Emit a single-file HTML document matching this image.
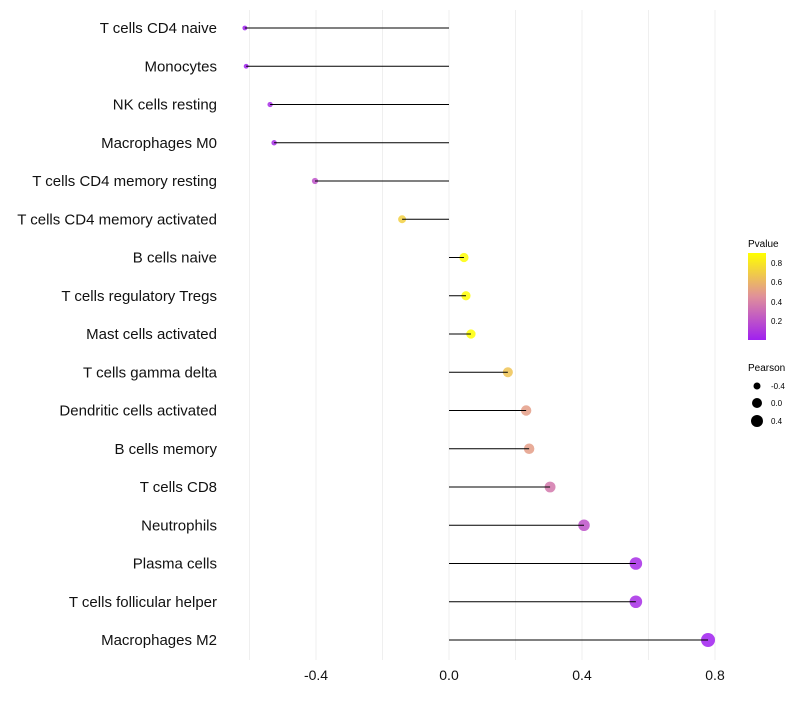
<!DOCTYPE html>
<html><head><meta charset="utf-8"><style>
body{margin:0;background:#fff;font-family:"Liberation Sans",sans-serif}
svg text{font-family:"Liberation Sans",sans-serif}
</style></head><body>
<svg id="chart" width="800" height="700">
<defs><linearGradient id="pg" x1="0" y1="1" x2="0" y2="0">
<stop offset="0" stop-color="#a020f0"/><stop offset="0.5" stop-color="#e0909a"/><stop offset="1" stop-color="#ffff00"/></linearGradient></defs>
<g id="grid"></g><g id="marks"></g><g id="labels"></g>
<g>
<text x="748" y="247" font-size="10">Pvalue</text>
<rect x="748" y="253" width="18" height="87" fill="url(#pg)"/>
<text x="771" y="266" font-size="8">0.8</text><text x="771" y="285" font-size="8">0.6</text>
<text x="771" y="305" font-size="8">0.4</text><text x="771" y="324" font-size="8">0.2</text>
</g>
<g>
<text x="748" y="371" font-size="10">Pearson</text>
<circle cx="757" cy="386" r="3.5" fill="#000"/><text x="771" y="389" font-size="8">-0.4</text>
<circle cx="757" cy="403" r="5" fill="#000"/><text x="771" y="406" font-size="8">0.0</text>
<circle cx="757" cy="421" r="6" fill="#000"/><text x="771" y="424" font-size="8">0.4</text>
</g>
</svg>
<script>
const categories=["T cells CD4 naive","Monocytes","NK cells resting","Macrophages M0","T cells CD4 memory resting","T cells CD4 memory activated","B cells naive","T cells regulatory  Tregs ","Mast cells activated","T cells gamma delta","Dendritic cells activated","B cells memory","T cells CD8","Neutrophils","Plasma cells","T cells follicular helper","Macrophages M2"];
const pearson=[-0.614,-0.61,-0.538,-0.526,-0.403,-0.141,0.045,0.051,0.066,0.177,0.232,0.241,0.304,0.406,0.562,0.562,0.779];
const pvalues=[0.0,0.0,0.05,0.05,0.2,0.7,0.88,0.88,0.9,0.65,0.5,0.5,0.35,0.2,0.05,0.05,0.0];
const xTicks=[-0.4,0.0,0.4,0.8];
const ns="http://www.w3.org/2000/svg";
const x=v=>449+v*332.5, y=i=>28+i*38.25;
function mk(t,a,p){const e=document.createElementNS(ns,t);for(const k in a)e.setAttribute(k,a[k]);p.appendChild(e);return e;}
function lerp(a,b,t){return a.map((c,i)=>Math.round(c+(b[i]-c)*t));}
function col(p){const t=Math.min(p/0.89,1);const A=[160,32,240],M=[224,144,154],B=[255,255,0];const c=t<0.5?lerp(A,M,t*2):lerp(M,B,(t-0.5)*2);return `rgb(${c.join(',')})`;}
const grid=document.getElementById('grid'),marks=document.getElementById('marks'),labels=document.getElementById('labels');
for(let g=-0.6;g<=0.81;g+=0.2){const l=mk('line',{x1:x(g),x2:x(g),y1:10,y2:660,stroke:'#efefef','stroke-width':1},grid);

}
xTicks.forEach(t=>{const e=mk('text',{x:x(t),y:680,'font-size':14,'text-anchor':'middle',fill:'#111'},labels);e.textContent=t.toFixed(1);

});
categories.forEach((c,i)=>{
const t=mk('text',{x:217,y:y(i)+5,'font-size':15,'text-anchor':'end',fill:'#111'},labels);t.textContent=c;


const v=pearson[i];const r=2.4+(v+0.62)/1.4*4.6;
const pt=mk('circle',{cx:x(v),cy:y(i),r:r,fill:col(pvalues[i]),'fill-opacity':0.85},marks);


const s=mk('line',{x1:x(0),x2:x(v),y1:y(i),y2:y(i),stroke:'#000','stroke-width':1},marks);


});
</script>
</body></html>
